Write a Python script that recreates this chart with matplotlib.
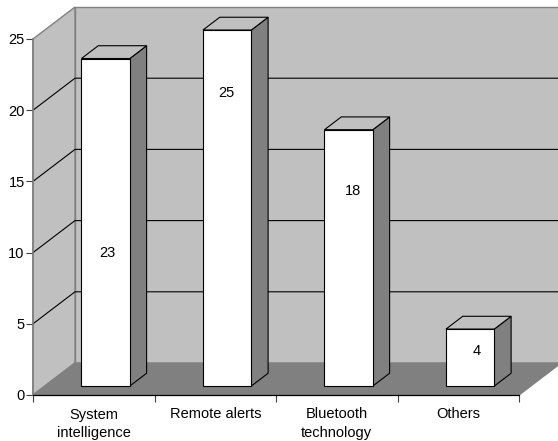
#!/usr/bin/env python

import matplotlib
matplotlib.use("Agg")
import matplotlib.pyplot as plt
from matplotlib.patches import Polygon

categories = ["System\nintelligence", "Remote alerts", "Bluetooth\ntechnology", "Others"]
values = [23, 25, 18, 4]
y_ticks = [0, 5, 10, 15, 20, 25]

# where the value labels sit on each bar, in axis units
label_x = [0.61, 1.595, 2.63, 3.65]
label_y = [9.95, 21.2, 14.3, 3.1]

GREY = "#c0c0c0"
DARK = "#808080"

# one unit of depth moves a point this far in axis units
DX = 42 / 121.5
DY = 32 / 14.24

W, H = 558, 441
LEFT, RIGHT, TOP, BOTTOM = 33, 519, 39, 395


def proj(x, y, d):
    return (x + d * DX, y + d * DY)


def face(ax, pts, color, edge, lw=0.8, z=1):
    ax.add_patch(Polygon(pts, closed=True, facecolor=color, edgecolor=edge,
                         linewidth=lw, zorder=z, clip_on=False, joinstyle="miter"))


def bar3d(ax, x0, x1, h, d0, d1, z):
    face(ax, [proj(x1, 0, d0), proj(x1, 0, d1), proj(x1, h, d1), proj(x1, h, d0)], DARK, "black", z=z)
    face(ax, [proj(x0, h, d0), proj(x1, h, d0), proj(x1, h, d1), proj(x0, h, d1)], GREY, "black", z=z)
    face(ax, [proj(x0, 0, d0), proj(x1, 0, d0), proj(x1, h, d0), proj(x0, h, d0)], "white", "black", z=z + 0.1)


def main():
    plt.rcParams["font.family"] = ["Liberation Sans", "DejaVu Sans"]
    fig = plt.figure(figsize=(W / 100, H / 100), dpi=100)
    ax = fig.add_axes([LEFT / W, 1 - BOTTOM / H, (RIGHT - LEFT) / W, (BOTTOM - TOP) / H])
    ax.set_xlim(0, 4)
    ax.set_ylim(0, 25)
    ax.patch.set_visible(False)

    # walls and floor
    face(ax, [proj(0, 0, 1), proj(4, 0, 1), proj(4, 25, 1), proj(0, 25, 1)], GREY, DARK, lw=1.0, z=1)
    face(ax, [proj(0, 0, 0), proj(0, 0, 1), proj(0, 25, 1), proj(0, 25, 0)], GREY, DARK, lw=1.0, z=1)
    face(ax, [proj(0, 0, 0), proj(4, 0, 0), proj(4, 0, 1), proj(0, 0, 1)], DARK, DARK, lw=1.0, z=1.2)

    # gridlines run along the side wall, then across the back
    for t in y_ticks[1:-1]:
        xs, ys = zip(proj(0, t, 0), proj(0, t, 1), proj(4, t, 1))
        ax.plot(xs, ys, color="black", lw=0.8, zorder=1.5, clip_on=False)

    for i, v in enumerate(values):
        bar3d(ax, i + 0.302, i + 0.7, v, 0.28, 0.68, 3 + i)
        ax.text(label_x[i], label_y[i], str(v), ha="center", va="center",
                fontsize=10.5, zorder=10)

    ax.spines["top"].set_visible(False)
    ax.spines["right"].set_visible(False)
    ax.spines["left"].set_color(DARK)
    ax.spines["left"].set_linewidth(1.2)
    ax.spines["bottom"].set_linewidth(0.9)

    ax.set_yticks(y_ticks)
    ax.set_xticks(range(5))
    ax.set_xticklabels([])
    ax.set_xticks([i + 0.5 for i in range(4)], categories, minor=True, fontsize=10.5,
                  linespacing=1.4)
    ax.tick_params(axis="x", which="major", length=5, width=0.8, color="#404040")
    ax.tick_params(axis="x", which="minor", length=0, pad=9)
    ax.tick_params(axis="y", length=5, width=0.8, labelsize=10.5, pad=1, color="#404040")

    fig.savefig("out.png", dpi=100)


if __name__ == "__main__":
    main()
